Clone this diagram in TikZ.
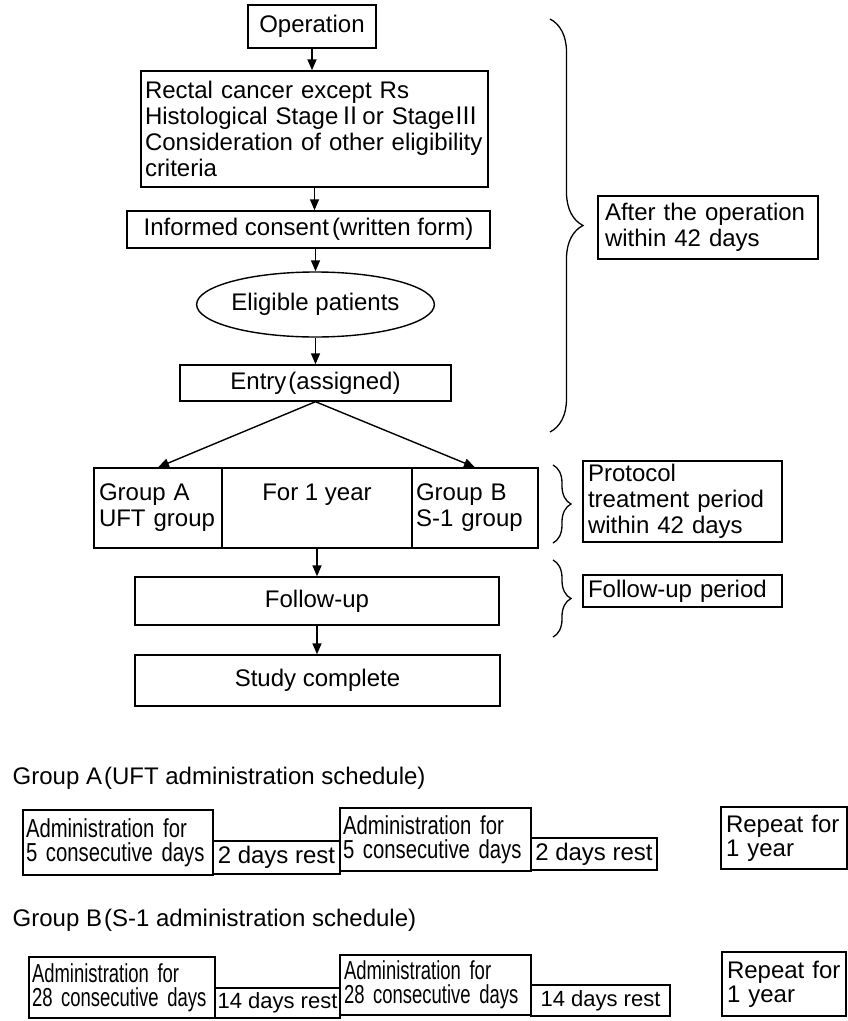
\documentclass[tikz,border=0pt]{standalone}
\usepackage{fontspec}
\setmainfont{Liberation Sans}
\newfontfamily\cjk{Noto Sans CJK JP}
\newfontfamily\condA[FakeStretch=0.78]{Liberation Sans}
\newfontfamily\condB[FakeStretch=0.71]{Liberation Sans}
\usetikzlibrary{arrows.meta,shapes.geometric,decorations.pathreplacing}
\begin{document}
\begin{tikzpicture}[x=1pt,y=-1pt,line width=1.4pt,
  box/.style={draw,rectangle,inner sep=0pt,font=\fontsize{24}{26}\selectfont},
  sbox/.style={draw,rectangle,inner sep=0pt,font=\fontsize{24}{24}\selectfont},
  ctxt/.style={inner sep=0pt,font=\fontsize{24}{26}\selectfont},
  arr/.style={-{Triangle[length=11pt,width=9pt]},line width=1.4pt},
  brc/.style={decorate,decoration={brace,amplitude=#1},line width=1.3pt},
]
\useasboundingbox (0,0) rectangle (848,1021);
% ---- main flow ----
\node[box,minimum width=128pt,minimum height=43pt] (op) at (312,26.5) {Operation};
\node[box,minimum width=347pt,minimum height=116pt,text width=339pt,align=left] (crit) at (314.5,129)
  {Rectal cancer except Rs\\Histological Stage{\cjk Ⅱ}or Stage{\cjk Ⅲ}\\Consideration of other eligibility\\criteria};
\node[box,minimum width=363pt,minimum height=37pt] (cons) at (308.5,229.5) {Informed consent\hspace{3pt}(written form)};
\node[draw,ellipse,inner sep=0pt,minimum width=225pt,minimum height=65pt,font=\fontsize{24}{26}\selectfont] (elig) at (315.5,304.5) {Eligible patients};
\node[box,minimum width=271pt,minimum height=36pt] (entry) at (315.5,383) {Entry\hspace{2pt}(assigned)};
\node[box,minimum width=128pt,minimum height=80pt,text width=118pt,align=left] (ga) at (158,508) {Group A\\UFT group};
\node[box,minimum width=190pt,minimum height=80pt] (mid) at (317,508) {};
\node[ctxt] (yr) at (317,495) {For 1 year};
\node[box,minimum width=126pt,minimum height=80pt,text width=118pt,align=left] (gb) at (475,508) {Group B\\S-1 group};
\node[box,minimum width=364pt,minimum height=48pt] (fu) at (317,601) {Follow-up};
\node[box,minimum width=365pt,minimum height=51pt] (sc) at (317.5,680.5) {Study complete};
\draw[arr] (op.south) -- (op.south |- crit.north);
\draw[arr] (crit.south) -- (crit.south |- cons.north);
\draw[arr] (cons.south -| elig.north) -- (elig.north);
\draw[arr] (elig.south) -- (entry.north);
\draw[arr] (entry.south) -- (ga.north);
\draw[arr] (entry.south) -- (gb.north);
\draw[arr] (mid.south) -- (mid.south |- fu.north);
\draw[arr] (fu.south) -- (fu.south |- sc.north);
% ---- right side ----
\node[box,minimum width=220pt,minimum height=63pt,text width=206pt,align=left] (after) at (708,227.5) {After the operation\\within 42 days};
\node[box,minimum width=199pt,minimum height=81pt,text width=189pt,align=left] (prot) at (682.5,501.5) {Protocol\\treatment period\\within 42 days};
\node[box,minimum width=199pt,minimum height=32pt,text width=189pt,align=left] (fup) at (682.5,591) {Follow-up period};
\coordinate (b1t) at (550,19);  \coordinate (b1b) at (550,432);
\coordinate (b2t) at (553,465); \coordinate (b2b) at (553,543);
\coordinate (b3t) at (553,560); \coordinate (b3b) at (553,637);
\draw[brc=33pt] (b1t) -- (b1b);
\draw[brc=18pt] (b2t) -- (b2b);
\draw[brc=18pt] (b3t) -- (b3b);
% ---- schedule A ----
\node[anchor=west,inner sep=0pt,font=\fontsize{24}{26}\selectfont] (ta) at (12,778) {Group A\hspace{2pt}(UFT administration schedule)};
\node[sbox,minimum width=190pt,minimum height=65pt,text width=184pt,align=left,font=\condA\fontsize{26}{24}\selectfont] (a1) at (118,842.5) {Administration for\\5 consecutive days};
\node[sbox,minimum width=127pt,minimum height=33pt] (r1) at (276.5,857.5) {2 days rest};
\node[sbox,minimum width=191pt,minimum height=63pt,text width=185pt,align=left,font=\condA\fontsize{26}{24}\selectfont] (a2) at (435.5,839.5) {Administration for\\5 consecutive days};
\node[sbox,minimum width=126pt,minimum height=32pt] (r2) at (594,854) {2 days rest};
\node[sbox,minimum width=126pt,minimum height=62pt,text width=116pt,align=left] (repa) at (784,838) {Repeat for\\1 year};
% ---- schedule B ----
\node[anchor=west,inner sep=0pt,font=\fontsize{24}{26}\selectfont] (tb) at (12,920) {Group B\hspace{2pt}(S-1 administration schedule)};
\node[sbox,minimum width=186pt,minimum height=61pt,text width=180pt,align=left,font=\condB\fontsize{26}{24}\selectfont] (b1) at (122,987.5) {Administration for\\28 consecutive days};
\node[sbox,minimum width=125pt,minimum height=30pt,font=\fontsize{22}{22}\selectfont] (rb1) at (277.5,1003) {14 days rest};
\node[sbox,minimum width=191pt,minimum height=60pt,text width=183pt,align=left,font=\condB\fontsize{26}{24}\selectfont] (b2) at (435.5,985) {Administration for\\28 consecutive days};
\node[sbox,minimum width=139pt,minimum height=31pt,font=\fontsize{22}{22}\selectfont] (rb2) at (600.5,1000.5) {14 days rest};
\node[sbox,minimum width=124pt,minimum height=64pt,text width=114pt,align=left] (repb) at (784,984) {Repeat for\\1 year};
\end{tikzpicture}
\end{document}
